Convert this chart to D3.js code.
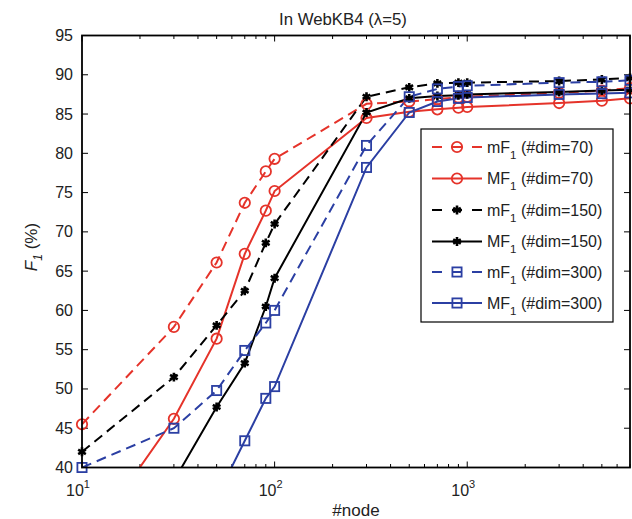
<!DOCTYPE html>
<html>
<head>
<meta charset="utf-8">
<script src="https://cdn.jsdelivr.net/npm/d3@7"></script>
<style>
  html, body { margin: 0; padding: 0; background: #fff; }
  svg { display: block; font-family: "Liberation Sans", Arial, Helvetica, sans-serif; }
</style>
</head>
<body>
<svg id="chart" width="632" height="519"></svg>
<script>
// Number of nodes used for each run
const nodes = [10, 30, 50, 70, 90, 100, 300, 500, 700, 900, 1000, 3000, 5000, 7000];

// F1 scores (%) per setting
const mF1_dim70  = [45.5, 57.9, 66.1, 73.7, 77.7, 79.3, 86.3, 86.6, 86.9, 87.1, 87.2, 87.7, 88.0, 88.3];
const MF1_dim70  = [29.5, 46.2, 56.4, 67.2, 72.7, 75.2, 84.5, 85.3, 85.6, 85.8, 85.9, 86.4, 86.7, 87.0];
const mF1_dim150 = [42.0, 51.5, 58.1, 62.5, 68.6, 71.0, 87.2, 88.4, 88.9, 89.0, 89.0, 89.2, 89.4, 89.6];
const MF1_dim150 = [25.0, 38.3, 47.7, 53.3, 60.5, 64.1, 85.2, 87.0, 87.3, 87.4, 87.5, 87.8, 88.0, 88.1];
const mF1_dim300 = [40.0, 45.0, 49.8, 54.9, 58.4, 60.0, 81.0, 87.2, 88.2, 88.5, 88.6, 89.0, 89.1, 89.3];
const MF1_dim300 = [20.0, 28.0, 36.2, 43.4, 48.8, 50.3, 78.2, 85.2, 86.6, 87.0, 87.1, 87.5, 87.6, 87.7];

const yTicks = [40, 45, 50, 55, 60, 65, 70, 75, 80, 85, 90, 95];
const xMajor = [10, 100, 1000];
const xExp = ["1", "2", "3"];

const RED = "#e5332a", BLACK = "#000000", BLUE = "#2b3fa3";

const series = [
  { prefix: "m", dim: 70,  values: mF1_dim70,  color: RED,   dashed: true,  marker: "circle" },
  { prefix: "M", dim: 70,  values: MF1_dim70,  color: RED,   dashed: false, marker: "circle" },
  { prefix: "m", dim: 150, values: mF1_dim150, color: BLACK, dashed: true,  marker: "star" },
  { prefix: "M", dim: 150, values: MF1_dim150, color: BLACK, dashed: false, marker: "star" },
  { prefix: "m", dim: 300, values: mF1_dim300, color: BLUE,  dashed: true,  marker: "square" },
  { prefix: "M", dim: 300, values: MF1_dim300, color: BLUE,  dashed: false, marker: "square" }
];

const svg = d3.select("#chart");
const L = 82, R = 630, T = 35.5, B = 467.5;

const x = d3.scaleLog().domain([10, 7000]).range([L, R]);
const y = d3.scaleLinear().domain([40, 95]).range([B, T]);

svg.append("defs").append("clipPath").attr("id", "plotClip")
  .append("rect").attr("x", L).attr("y", T).attr("width", R - L).attr("height", B - T);

// minor log ticks (2..9 per decade) within the domain
const minor = [];
for (let d = 10; d < 7000; d *= 10) {
  for (let k = 2; k <= 9; k++) { const v = k * d; if (v <= 7000) minor.push(v); }
}

const tickG = svg.append("g").attr("stroke", "#000").attr("stroke-width", 1);
// x ticks, bottom and top, pointing inward
xMajor.forEach(v => {
  tickG.append("line").attr("x1", x(v)).attr("x2", x(v)).attr("y1", B).attr("y2", B - 6);
  tickG.append("line").attr("x1", x(v)).attr("x2", x(v)).attr("y1", T).attr("y2", T + 6);
});
minor.forEach(v => {
  tickG.append("line").attr("x1", x(v)).attr("x2", x(v)).attr("y1", B).attr("y2", B - 3.5);
  tickG.append("line").attr("x1", x(v)).attr("x2", x(v)).attr("y1", T).attr("y2", T + 3.5);
});
// y ticks, left and right
yTicks.forEach(v => {
  tickG.append("line").attr("x1", L).attr("x2", L + 6).attr("y1", y(v)).attr("y2", y(v));
  tickG.append("line").attr("x1", R).attr("x2", R - 6).attr("y1", y(v)).attr("y2", y(v));
});

// y tick labels
svg.append("g").selectAll("text").data(yTicks).join("text")
  .attr("x", L - 9).attr("y", d => y(d) + 5.5)
  .attr("text-anchor", "end").attr("font-size", 16).attr("fill", "#222")
  .text(d => d);

// x tick labels as powers of ten
xMajor.forEach((v, i) => {
  const t = svg.append("text").attr("x", x(v) - 4).attr("y", 496)
    .attr("text-anchor", "middle").attr("font-size", 16).attr("fill", "#222");
  t.append("tspan").text("10");
  t.append("tspan").attr("dy", -8).attr("font-size", 11).text(xExp[i]);
});

// data lines
const line = d3.line().x(d => x(d[0])).y(d => y(d[1]));
const plot = svg.append("g").attr("clip-path", "url(#plotClip)");

function drawMarker(g, type, color, cx, cy) {
  if (type === "circle") {
    g.append("circle").attr("cx", cx).attr("cy", cy).attr("r", 5.2)
      .attr("fill", "none").attr("stroke", color).attr("stroke-width", 1.8);
  } else if (type === "square") {
    g.append("rect").attr("x", cx - 4.6).attr("y", cy - 4.6).attr("width", 9.2).attr("height", 9.2)
      .attr("fill", "none").attr("stroke", color).attr("stroke-width", 1.8);
  } else {
    g.append("path").attr("transform", `translate(${cx},${cy})`)
      .attr("d", d3.symbol().type(d3.symbolAsterisk).size(55)())
      .attr("fill", "none").attr("stroke", color).attr("stroke-width", 2.6);
  }
}

series.forEach(s => {
  const pts = nodes.map((n, i) => [n, s.values[i]]);
  plot.append("path").datum(pts)
    .attr("d", line)
    .attr("fill", "none").attr("stroke", s.color).attr("stroke-width", 2)
    .attr("stroke-dasharray", s.dashed ? "10,6" : null);
  const mg = svg.append("g");
  pts.filter(p => p[1] >= 40 && p[1] <= 95).forEach(p => drawMarker(mg, s.marker, s.color, x(p[0]), y(p[1])));
});

// frame
svg.append("rect").attr("x", L).attr("y", T).attr("width", R - L).attr("height", B - T)
  .attr("fill", "none").attr("stroke", "#000").attr("stroke-width", 1.8);

// title and axis labels
svg.append("text").attr("x", 343).attr("y", 25).attr("text-anchor", "middle")
  .attr("font-size", 16.8).attr("fill", "#222").text("In WebKB4 (λ=5)");

svg.append("text").attr("x", 356).attr("y", 516).attr("text-anchor", "middle")
  .attr("font-size", 17).attr("fill", "#222").text("#node");

const yl = svg.append("text").attr("transform", "translate(37,247) rotate(-90)")
  .attr("text-anchor", "middle").attr("font-size", 17).attr("fill", "#222");
yl.append("tspan").attr("font-style", "italic").text("F");
yl.append("tspan").attr("font-style", "italic").attr("font-size", 12).attr("dy", 5).text("1");
yl.append("tspan").attr("dy", -5).text(" (%)");

// legend
const lg = svg.append("g");
lg.append("rect").attr("x", 421).attr("y", 129).attr("width", 192).attr("height", 193)
  .attr("fill", "#fff").attr("stroke", "#000").attr("stroke-width", 1.2);
const rowY = [147, 178.5, 210, 241.5, 272, 303];
series.forEach((s, i) => {
  const ry = rowY[i];
  lg.append("line").attr("x1", 432).attr("x2", 482).attr("y1", ry).attr("y2", ry)
    .attr("stroke", s.color).attr("stroke-width", 2)
    .attr("stroke-dasharray", s.dashed ? "10,10" : null);
  drawMarker(lg, s.marker, s.color, 457, ry);
  const t = lg.append("text").attr("x", 487).attr("y", ry + 5.5).attr("font-size", 16).attr("fill", "#222");
  t.append("tspan").text(s.prefix + "F");
  t.append("tspan").attr("font-size", 11.5).attr("dy", 6).text("1");
  t.append("tspan").attr("dy", -6).text(` (#dim=${s.dim})`);
});
</script>
</body>
</html>
